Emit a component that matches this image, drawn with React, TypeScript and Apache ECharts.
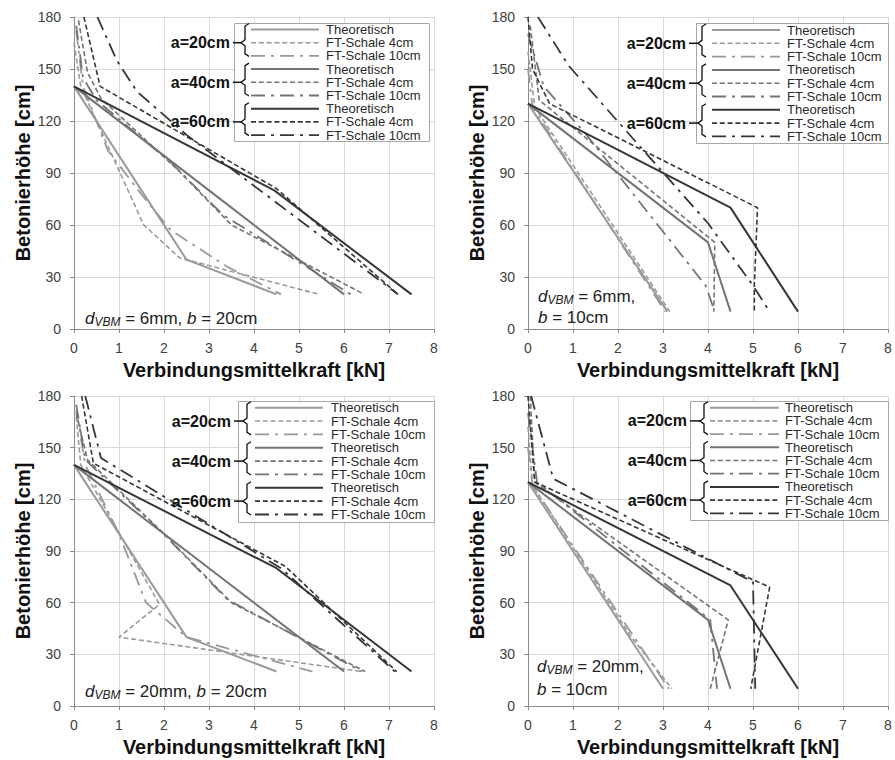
import React, { useEffect, useRef } from "react";
import * as echarts from "echarts";

// ---------- axis settings ----------
const X_MIN = 0;
const X_MAX = 8;
const X_STEP = 1;
const Y_MIN = 0;
const Y_MAX = 180;
const Y_STEP = 30;
const X_TITLE = "Verbindungsmittelkraft [kN]";
const Y_TITLE = "Betonierhöhe [cm]";

// ---------- legend texts ----------
const GROUP_LABELS = ["a=20cm", "a=40cm", "a=60cm"];
const ITEM_LABELS = ["Theoretisch", "FT-Schale 4cm", "FT-Schale 10cm"];

// ---------- annotation texts ----------
const NOTE_D = ["6mm", "6mm", "20mm", "20mm"];
const NOTE_B = ["20cm", "10cm", "20cm", "10cm"];

// ---------- data: panel 1 (d=6mm, b=20cm) ----------
const p1_a20_theo = [[0, 140], [2.5, 40], [4.5, 20]];
const p1_a20_ft4 = [[0, 165], [0.15, 140], [1.55, 60], [2.35, 41], [5.45, 20]];
const p1_a20_ft10 = [[0.05, 172], [0.2, 140], [0.75, 103], [1.55, 76], [2.15, 57], [3.4, 36], [4.6, 20]];
const p1_a40_theo = [[0, 140], [3, 80], [6, 20]];
const p1_a40_ft4 = [[0.1, 178], [0.3, 148], [0.6, 133], [2.3, 92], [3.5, 60], [6.45, 20]];
const p1_a40_ft10 = [[0.05, 175], [0.2, 145], [0.5, 132], [2.2, 95], [3.3, 66], [6.15, 20]];
const p1_a60_theo = [[0, 140], [4.45, 80], [7.5, 20]];
const p1_a60_ft4 = [[0.22, 180], [0.58, 140], [4.5, 81], [7.2, 20]];
const p1_a60_ft10 = [[0.52, 180], [0.95, 155], [1.4, 137], [2.5, 112], [7.2, 20]];

// ---------- data: panel 2 (d=6mm, b=10cm) ----------
const p2_a20_theo = [[0, 130], [3.1, 10]];
const p2_a20_ft4 = [[0, 160], [0.15, 128], [3.15, 10]];
const p2_a20_ft10 = [[0, 150], [0.1, 128], [3.05, 10]];
const p2_a40_theo = [[0, 130], [4, 50], [4.5, 10]];
const p2_a40_ft4 = [[0.05, 175], [0.25, 132], [4.15, 50], [4.13, 10]];
const p2_a40_ft10 = [[0, 170], [0.35, 140], [1.3, 112], [3.95, 25], [4.15, 10]];
const p2_a60_theo = [[0, 130], [4.5, 70], [6, 10]];
const p2_a60_ft4 = [[0, 180], [0.1, 150], [0.48, 130], [5.1, 70], [5.03, 25], [5.03, 10]];
const p2_a60_ft10 = [[0.22, 180], [0.9, 152], [2.6, 102], [4.0, 61], [5.0, 25], [5.37, 10]];

// ---------- data: panel 3 (d=20mm, b=20cm) ----------
const p3_a20_theo = [[0, 140], [2.5, 40], [4.5, 20]];
const p3_a20_ft4 = [[0.05, 168], [0.15, 140], [1.9, 59], [1.0, 40], [6.4, 20]];
const p3_a20_ft10 = [[0.05, 172], [0.25, 140], [1.0, 100], [1.6, 60], [2.5, 40], [5.3, 20]];
const p3_a40_theo = [[0, 140], [3, 80], [6, 20]];
const p3_a40_ft4 = [[0.05, 170], [0.3, 143], [2.0, 100], [3.5, 60], [6.47, 20]];
const p3_a40_ft10 = [[0.05, 175], [0.25, 143], [2.1, 97], [3.4, 62], [6.4, 20]];
const p3_a60_theo = [[0, 140], [4.5, 80], [7.5, 20]];
const p3_a60_ft4 = [[0.17, 180], [0.43, 141], [4.7, 81], [7.17, 20]];
const p3_a60_ft10 = [[0.25, 180], [0.6, 144], [4.6, 80], [7.13, 20]];

// ---------- data: panel 4 (d=20mm, b=10cm) ----------
const p4_a20_theo = [[0, 130], [3.0, 10]];
const p4_a20_ft4 = [[0, 162], [0.1, 128], [2.3, 40], [3.2, 10]];
const p4_a20_ft10 = [[0, 150], [0.1, 128], [3.13, 10]];
const p4_a40_theo = [[0, 130], [4, 50], [4.5, 10]];
const p4_a40_ft4 = [[0.05, 180], [0.15, 130], [4.45, 50], [4.05, 10]];
const p4_a40_ft10 = [[0, 170], [0.2, 130], [4.05, 50], [4.2, 10]];
const p4_a60_theo = [[0, 130], [4.5, 70], [6, 10]];
const p4_a60_ft4 = [[0, 180], [0.15, 130], [5.37, 69], [4.95, 10]];
const p4_a60_ft10 = [[0.07, 180], [0.56, 132], [5.0, 72], [5.05, 10]];

const PANEL_DATA = [
  [[p1_a20_theo, p1_a20_ft4, p1_a20_ft10], [p1_a40_theo, p1_a40_ft4, p1_a40_ft10], [p1_a60_theo, p1_a60_ft4, p1_a60_ft10]],
  [[p2_a20_theo, p2_a20_ft4, p2_a20_ft10], [p2_a40_theo, p2_a40_ft4, p2_a40_ft10], [p2_a60_theo, p2_a60_ft4, p2_a60_ft10]],
  [[p3_a20_theo, p3_a20_ft4, p3_a20_ft10], [p3_a40_theo, p3_a40_ft4, p3_a40_ft10], [p3_a60_theo, p3_a60_ft4, p3_a60_ft10]],
  [[p4_a20_theo, p4_a20_ft4, p4_a20_ft10], [p4_a40_theo, p4_a40_ft4, p4_a40_ft10], [p4_a60_theo, p4_a60_ft4, p4_a60_ft10]],
];

// ---------- layout / style ----------
const FONT = "'Liberation Sans', Arial, Helvetica, sans-serif";
const GRIDS = [
  { left: 74, top: 17, width: 360, height: 312 },
  { left: 528, top: 17, width: 360, height: 312 },
  { left: 74, top: 396, width: 360, height: 310 },
  { left: 528, top: 396, width: 360, height: 310 },
];
const LEGEND_POS = [
  { boxL: 234, boxT: 23, boxR: 429, boxB: 141, br: 243, ls: 251, le: 319, tx: 326, lr: 230, r0: 29.5, step: 13.2 },
  { boxL: 696, boxT: 23, boxR: 888, boxB: 143, br: 700, ls: 712, le: 780, tx: 787, lr: 686, r0: 30, step: 13.3 },
  { boxL: 238, boxT: 401, boxR: 434, boxB: 522, br: 245, ls: 255, le: 323, tx: 331, lr: 231, r0: 407.7, step: 13.35 },
  { boxL: 690, boxT: 401, boxR: 888, boxB: 520, br: 702, ls: 710, le: 779, tx: 785, lr: 687, r0: 407.7, step: 13.2 },
];
const NOTE_POS = [
  { x: 85, y: 318, y2: 0 },
  { x: 538, y: 296, y2: 317 },
  { x: 85, y: 691, y2: 0 },
  { x: 537, y: 666, y2: 689 },
];
const GROUP_COLORS = ["#9a9a9a", "#747474", "#363636"];
const LINE_TYPES: any[] = ["solid", [5, 2.8], [14, 6, 3, 6]];
const LINE_WIDTHS = [2, 1.6, 1.8];

function buildOption() {
  const grid: any[] = [];
  const xAxis: any[] = [];
  const yAxis: any[] = [];
  const series: any[] = [];
  const graphic: any[] = [];

  GRIDS.forEach((g, i) => {
    grid.push({ ...g, outerBoundsMode: "none", containLabel: false });
    xAxis.push({
      type: "value",
      gridIndex: i,
      min: X_MIN,
      max: X_MAX,
      interval: X_STEP,
      name: X_TITLE,
      nameLocation: "middle",
      nameGap: 31,
      nameTextStyle: { fontFamily: FONT, fontSize: 20, fontWeight: "bold", color: "#111" },
      axisLine: { show: true, onZero: false, lineStyle: { color: "#8c8c8c", width: 1 } },
      axisTick: { show: true, length: 4, lineStyle: { color: "#8c8c8c" } },
      axisLabel: { fontFamily: FONT, fontSize: 14, color: "#404040", margin: 12 },
      splitLine: { show: true, lineStyle: { color: "#d9d9d9", width: 1 } },
    });
    yAxis.push({
      type: "value",
      gridIndex: i,
      min: Y_MIN,
      max: Y_MAX,
      interval: Y_STEP,
      name: Y_TITLE,
      nameLocation: "middle",
      nameGap: 41,
      nameTextStyle: { fontFamily: FONT, fontSize: 20, fontWeight: "bold", color: "#111" },
      axisLine: { show: true, onZero: false, lineStyle: { color: "#8c8c8c", width: 1 } },
      axisTick: { show: true, length: 4, lineStyle: { color: "#8c8c8c" } },
      axisLabel: { fontFamily: FONT, fontSize: 14, color: "#404040", margin: 13 },
      splitLine: { show: true, lineStyle: { color: "#d9d9d9", width: 1 } },
    });

    PANEL_DATA[i].forEach((groupSeries, gi) => {
      groupSeries.forEach((data, ti) => {
        series.push({
          type: "line",
          name: `${GROUP_LABELS[gi]} ${ITEM_LABELS[ti]}`,
          xAxisIndex: i,
          yAxisIndex: i,
          data,
          symbol: "none",
          silent: true,
          z: 2 + gi,
          lineStyle: { color: GROUP_COLORS[gi], width: LINE_WIDTHS[ti], type: LINE_TYPES[ti] },
        });
      });
    });

    // legend
    const L = LEGEND_POS[i];
    graphic.push({
      type: "rect",
      z: 100,
      shape: { x: L.boxL + 0.5, y: L.boxT + 0.5, width: L.boxR - L.boxL, height: L.boxB - L.boxT },
      style: { fill: "#fff", stroke: "#a6a6a6", lineWidth: 1 },
    });
    GROUP_LABELS.forEach((lab, gi) => {
      const top = L.r0 + 3 * gi * L.step - 6;
      const mid = L.r0 + (3 * gi + 1) * L.step;
      const bot = L.r0 + (3 * gi + 2) * L.step + 0.5;
      const br = L.br;
      graphic.push({
        type: "polyline",
        z: 101,
        shape: {
          points: [
            [br + 6, top], [br + 2, top + 2.5], [br + 2, mid - 3], [br - 2, mid],
            [br + 2, mid + 3], [br + 2, bot - 2.5], [br + 6, bot],
          ],
        },
        style: { fill: null, stroke: "#111", lineWidth: 1.3 },
      });
      graphic.push({
        type: "line",
        z: 101,
        shape: { x1: L.lr + 3, y1: mid, x2: br - 2, y2: mid },
        style: { stroke: "#111", lineWidth: 1.5 },
      });
      graphic.push({
        type: "text",
        z: 101,
        x: L.lr,
        y: mid,
        style: {
          text: lab, fontFamily: FONT, fontSize: 16, fontWeight: "bold", fill: "#111",
          align: "right", verticalAlign: "middle", lineHeight: 16,
        },
      });
      ITEM_LABELS.forEach((it, ti) => {
        const y = L.r0 + (3 * gi + ti) * L.step;
        const t = LINE_TYPES[ti];
        graphic.push({
          type: "line",
          z: 101,
          shape: { x1: L.ls, y1: y, x2: L.le, y2: y },
          style: {
            stroke: GROUP_COLORS[gi], lineWidth: LINE_WIDTHS[ti],
            lineDash: Array.isArray(t) ? t : null,
          },
        });
        graphic.push({
          type: "text",
          z: 101,
          x: L.tx,
          y,
          style: {
            text: it, fontFamily: FONT, fontSize: 13, fill: "#2a2a2a",
            align: "left", verticalAlign: "middle", lineHeight: 12,
          },
        });
      });
    });

    // annotation
    const N = NOTE_POS[i];
    const rich = {
      i: { fontFamily: FONT, fontSize: 17, fontStyle: "italic", fill: "#222", verticalAlign: "middle", lineHeight: 20 },
      s: { fontFamily: FONT, fontSize: 12, fontStyle: "italic", fill: "#222", verticalAlign: "bottom", lineHeight: 20 },
      n: { fontFamily: FONT, fontSize: 17, fill: "#222", verticalAlign: "middle", lineHeight: 20 },
    };
    if (N.y2) {
      graphic.push({
        type: "text", z: 101, x: N.x, y: N.y,
        style: { text: `{i|d}{s|VBM}{n| = ${NOTE_D[i]},}`, rich, verticalAlign: "middle", align: "left" },
      });
      graphic.push({
        type: "text", z: 101, x: N.x, y: N.y2,
        style: { text: `{i|b}{n| = ${NOTE_B[i]}}`, rich, verticalAlign: "middle", align: "left" },
      });
    } else {
      graphic.push({
        type: "text", z: 101, x: N.x, y: N.y,
        style: { text: `{i|d}{s|VBM}{n| = ${NOTE_D[i]}, }{i|b}{n| = ${NOTE_B[i]}}`, rich, verticalAlign: "middle", align: "left" },
      });
    }
  });

  return {
    animation: false,
    backgroundColor: "#ffffff",
    grid,
    xAxis,
    yAxis,
    series,
    graphic,
  };
}

export default function App() {
  const ref = useRef<HTMLDivElement>(null);
  useEffect(() => {
    const chart = echarts.init(ref.current!, null, { renderer: "svg" });
    chart.setOption(buildOption() as any);
    return () => chart.dispose();
  }, []);
  return (
    <div
      ref={ref}
      style={{ position: "absolute", left: 0, top: 0, width: 895, height: 760, background: "#fff" }}
    />
  );
}
